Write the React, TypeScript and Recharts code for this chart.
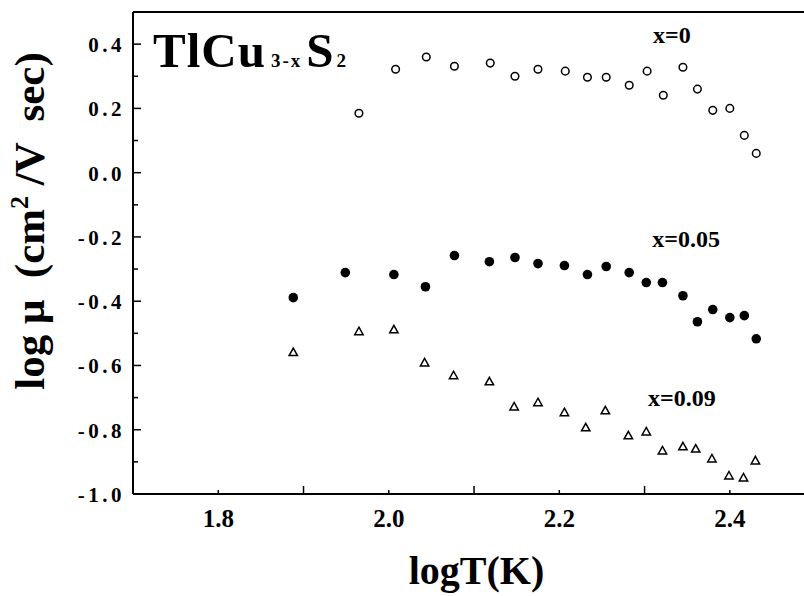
import React from "react";
import {
  ScatterChart,
  Scatter,
  XAxis,
  YAxis,
  ReferenceLine,
  ReferenceDot,
  Label,
} from "recharts";

// x = 0 (open circles)
const T_X0 = [1.965, 2.008, 2.044, 2.077, 2.119, 2.148, 2.175, 2.207, 2.233, 2.255, 2.282, 2.303, 2.322, 2.345, 2.362, 2.38, 2.4, 2.417, 2.431];
const MU_X0 = [0.185, 0.322, 0.36, 0.331, 0.341, 0.3, 0.322, 0.316, 0.297, 0.297, 0.272, 0.316, 0.241, 0.328, 0.26, 0.194, 0.2, 0.116, 0.06];

// x = 0.05 (filled circles)
const T_X005 = [1.888, 1.949, 2.006, 2.043, 2.077, 2.118, 2.148, 2.175, 2.206, 2.233, 2.255, 2.282, 2.302, 2.321, 2.345, 2.362, 2.38, 2.4, 2.417, 2.431];
const MU_X005 = [-0.389, -0.311, -0.317, -0.355, -0.258, -0.277, -0.264, -0.283, -0.289, -0.317, -0.292, -0.311, -0.342, -0.342, -0.383, -0.464, -0.426, -0.451, -0.445, -0.517];

// x = 0.09 (open triangles)
const T_X009 = [1.888, 1.965, 2.006, 2.042, 2.076, 2.118, 2.147, 2.175, 2.206, 2.231, 2.254, 2.281, 2.302, 2.321, 2.345, 2.36, 2.379, 2.399, 2.416, 2.43];
const MU_X009 = [-0.56, -0.495, -0.489, -0.592, -0.632, -0.651, -0.729, -0.716, -0.747, -0.794, -0.741, -0.819, -0.807, -0.866, -0.853, -0.86, -0.891, -0.944, -0.95, -0.897];

const X_TICKS = [1.8, 1.9, 2.0, 2.1, 2.2, 2.3, 2.4];
const Y_TICKS = [-1.0, -0.9, -0.8, -0.7, -0.6, -0.5, -0.4, -0.3, -0.2, -0.1, 0.0, 0.1, 0.2, 0.3, 0.4];

const toPoints = (xs: number[], ys: number[]) => xs.map((x, i) => ({ x, y: ys[i] }));

const FONT = "'Liberation Serif', 'Times New Roman', serif";

const isEven = (v: number) => Math.round(v * 10) % 2 === 0;

const XTick = (props: any) => {
  const { x, y, payload } = props;
  const labeled = isEven(payload.value);
  return (
    <g>
      <line x1={x} x2={x} y1={y} y2={y - (labeled ? 4 : 8)} stroke="#000" strokeWidth={1.5} />
      {labeled && (
        <text x={x} y={y + 33} textAnchor="middle" fontFamily={FONT} fontWeight="bold" fontSize={25} fill="#000">
          {payload.value.toFixed(1)}
        </text>
      )}
    </g>
  );
};

const YTick = (props: any) => {
  const { x, y, payload } = props;
  const labeled = isEven(payload.value);
  const label = payload.value.toFixed(1);
  return (
    <g>
      <line x1={x} x2={x + (labeled ? 8 : 5)} y1={y} y2={y} stroke="#000" strokeWidth={1.5} />
      {labeled && (
        <text x={x - 8} y={y + 8} textAnchor="end" fontFamily={FONT} fontWeight="bold" fontSize={21} letterSpacing={3.5} fill="#000">
          {label}
        </text>
      )}
    </g>
  );
};

const OpenCircle = (p: any) => (
  <circle cx={p.cx} cy={p.cy} r={3.8} fill="#fff" stroke="#000" strokeWidth={1.5} />
);
const FilledCircle = (p: any) => <circle cx={p.cx} cy={p.cy} r={4.8} fill="#000" />;
const Triangle = (p: any) => (
  <polygon
    points={`${p.cx},${p.cy - 4.5} ${p.cx + 4.2},${p.cy + 3} ${p.cx - 4.2},${p.cy + 3}`}
    fill="#fff"
    stroke="#000"
    strokeWidth={1.5}
  />
);

const textAt = (content: React.ReactNode, size: number) => (p: any) => (
  <text x={p.cx} y={p.cy} fontFamily={FONT} fontWeight="bold" fontSize={size} fill="#000" style={{ whiteSpace: "pre" }}>
    {content}
  </text>
);

const XLabel = (props: any) => {
  const { x, y, width } = props.viewBox;
  return (
    <text x={x + width / 2 + 8} y={y + 90} textAnchor="middle" fontFamily={FONT} fontWeight="bold" fontSize={40} fill="#000">
      logT(K)
    </text>
  );
};

const YLabel = () => (
  <text
    x={44}
    y={221}
    transform="rotate(-90, 44, 221)"
    textAnchor="middle"
    fontFamily={FONT}
    fontWeight="bold"
    fontSize={43}
    fill="#000"
    style={{ whiteSpace: "pre" }}
  >
    {"log μ  (cm"}
    <tspan fontSize={26} dy={-16}>2</tspan>
    <tspan dy={16}>{" /V  sec)"}</tspan>
  </text>
);

export default function App() {
  return (
    <div style={{ position: "absolute", left: 0, top: 0, width: 804, height: 596, background: "#fff" }}>
      <ScatterChart width={804} height={596} margin={{ top: 12, right: 0, bottom: 0, left: 0 }}>
        <XAxis
          type="number"
          dataKey="x"
          domain={[1.7, 2.487]}
          allowDataOverflow
          ticks={X_TICKS}
          interval={0}
          height={102}
          tickSize={0}
          tickMargin={0}
          tickLine={false}
          tick={<XTick />}
          axisLine={{ stroke: "#000", strokeWidth: 2 }}
        >
          <Label content={<XLabel />} />
        </XAxis>
        <YAxis
          type="number"
          dataKey="y"
          domain={[-1, 0.5]}
          allowDataOverflow
          ticks={Y_TICKS}
          interval={0}
          width={133}
          tickSize={0}
          tickMargin={0}
          tickLine={false}
          tick={<YTick />}
          axisLine={{ stroke: "#000", strokeWidth: 2 }}
        >
          <Label content={<YLabel />} />
        </YAxis>
        <ReferenceLine y={0.5} stroke="#000" strokeWidth={2} />
        <Scatter data={toPoints(T_X0, MU_X0)} shape={<OpenCircle />} isAnimationActive={false} />
        <Scatter data={toPoints(T_X005, MU_X005)} shape={<FilledCircle />} isAnimationActive={false} />
        <Scatter data={toPoints(T_X009, MU_X009)} shape={<Triangle />} isAnimationActive={false} />
        <ReferenceDot
          x={1.7235}
          y={0.33}
          r={0}
          shape={textAt(
            <>
              <tspan fontSize={49} letterSpacing={1}>TlCu</tspan>
              <tspan fontSize={19} dx={5} letterSpacing={2}>3-x</tspan>
              <tspan fontSize={49} dx={4}>S</tspan>
              <tspan fontSize={19} dx={3}>2</tspan>
            </>,
            49
          )}
        />
        <ReferenceDot x={2.31} y={0.403} r={0} shape={textAt("x=0", 24)} />
        <ReferenceDot x={2.309} y={-0.232} r={0} shape={textAt("x=0.05", 24)} />
        <ReferenceDot x={2.304} y={-0.727} r={0} shape={textAt("x=0.09", 24)} />
      </ScatterChart>
    </div>
  );
}
